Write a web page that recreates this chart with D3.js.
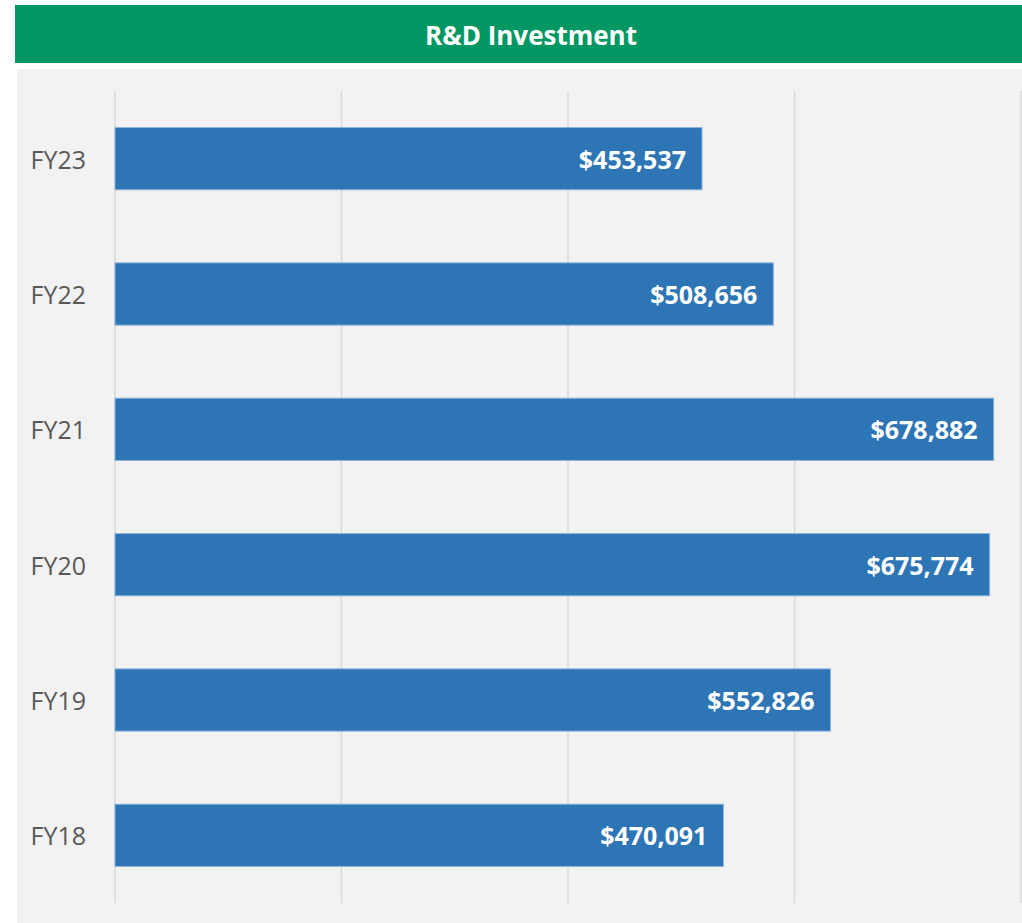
<!DOCTYPE html>
<html>
<head>
<meta charset="utf-8">
<script src="https://cdn.jsdelivr.net/npm/d3@7"></script>
<style>
  html, body { margin: 0; padding: 0; background: #ffffff; }
  svg { display: block; }
</style>
</head>
<body>
<svg id="chart" width="1022" height="923"></svg>
<script>
const categories = ["FY23", "FY22", "FY21", "FY20", "FY19", "FY18"];
const values = [453537, 508656, 678882, 675774, 552826, 470091];
const tickValues = [0, 175000, 350000, 525000, 700000];
const title = "R&D Investment";

const svg = d3.select("#chart");
const font = "'Open Sans', 'Noto Sans', sans-serif";

// Title bar
svg.append("rect").attr("x", 15).attr("y", 5).attr("width", 1007).attr("height", 58).attr("fill", "#039763");
svg.append("text").attr("x", 531).attr("y", 35)
  .attr("text-anchor", "middle").attr("dominant-baseline", "central")
  .attr("font-family", font).attr("font-weight", 700).attr("font-size", 26)
  .attr("fill", "#ffffff").text(title);

// Plot background
svg.append("rect").attr("x", 17).attr("y", 69).attr("width", 1005).attr("height", 854).attr("fill", "#f2f2f2");

const x = d3.scaleLinear().domain([0, 700000]).range([115, 1021]);
const y = d3.scaleBand().domain(categories).range([91, 903]).paddingInner(0.54).paddingOuter(0.27);

// Gridlines
svg.append("g").selectAll("line").data(tickValues).join("line")
  .attr("x1", d => x(d)).attr("x2", d => x(d))
  .attr("y1", 91).attr("y2", 903)
  .attr("stroke", "#d9d9d9").attr("stroke-width", 1.5);

// Bars
svg.append("g").selectAll("rect").data(categories).join("rect")
  .attr("x", x(0))
  .attr("y", d => y(d))
  .attr("width", (d, i) => x(values[i]) - x(0))
  .attr("height", y.bandwidth())
  .attr("fill", "#2e75b6")
  .attr("stroke", "#8db3dd").attr("stroke-width", 1);

// Value labels
const fmt = d3.format("$,");
svg.append("g").selectAll("text").data(categories).join("text")
  .attr("x", (d, i) => x(values[i]) - 16)
  .attr("y", d => y(d) + y.bandwidth() / 2)
  .attr("text-anchor", "end").attr("dominant-baseline", "central")
  .attr("font-family", font).attr("font-weight", 700).attr("font-size", 25)
  .attr("fill", "#ffffff")
  .text((d, i) => fmt(values[i]));

// Category labels
svg.append("g").selectAll("text").data(categories).join("text")
  .attr("x", 86)
  .attr("y", d => y(d) + y.bandwidth() / 2)
  .attr("text-anchor", "end").attr("dominant-baseline", "central")
  .attr("font-family", font).attr("font-size", 25)
  .attr("fill", "#595959")
  .text(d => d);
</script>
</body>
</html>
